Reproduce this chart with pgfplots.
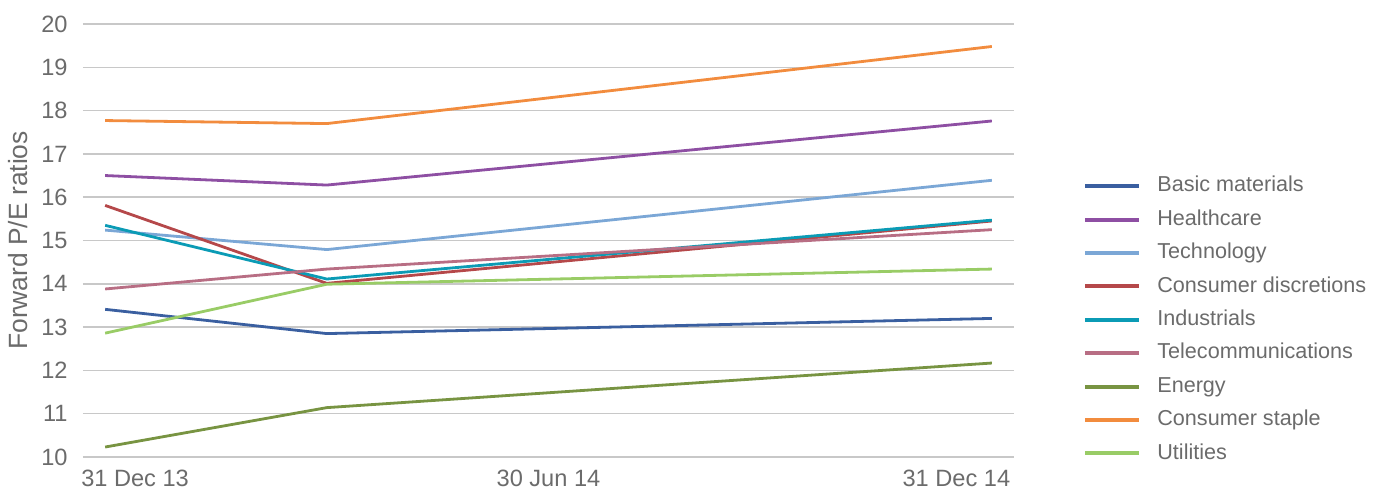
\documentclass[border=0pt]{standalone}
\usepackage{fontspec}
\setmainfont{Liberation Sans}
\usepackage{pgfplots}
\pgfplotsset{compat=1.18}
\definecolor{cBasic}{HTML}{3A5FA0}
\definecolor{cHealth}{HTML}{8E4FA3}
\definecolor{cTech}{HTML}{7BA7D6}
\definecolor{cDisc}{HTML}{B5484A}
\definecolor{cInd}{HTML}{0B9BB5}
\definecolor{cTel}{HTML}{B86E84}
\definecolor{cEnergy}{HTML}{789442}
\definecolor{cStaple}{HTML}{F28C3E}
\definecolor{cUtil}{HTML}{99CC66}
\definecolor{gridgray}{HTML}{C8C8C8}
\definecolor{textgray}{HTML}{6B6B6B}
\begin{document}
\begin{tikzpicture}
\path[use as bounding box] (-41.5pt,-16.5pt) rectangle (648pt,228.5pt);
\begin{axis}[
  scale only axis, width=465.5pt, height=216.5pt,
  xmin=-0.1, xmax=4.1, ymin=10, ymax=20,
  axis x line*=bottom, axis y line*=left,
  axis line style={draw=none},
  major tick length=0pt,
  ytick={10,11,...,20},
  /pgf/number format/assume math mode=true,
  ymajorgrids, grid style={color=gridgray, line width=0.75pt},
  xtick={0.135,2,3.84},
  xticklabels={31 Dec 13, 30 Jun 14, 31 Dec 14},
  tick label style={font=\fontsize{11.8}{13}\selectfont, text=textgray},
  yticklabel style={anchor=east, inner sep=0pt, xshift=-7.5pt},
  xticklabel style={anchor=north, inner sep=0pt, text height=8.3pt, text depth=0pt, yshift=-6.2pt},
  ylabel={Forward P/E ratios},
  ylabel style={at={(axis description cs:-0.0698,0.5)}, anchor=center, font=\fontsize{13.2}{15}\selectfont, text=textgray},
  legend cell align=left,
  legend style={at={(1.0745,0.648)}, anchor=north west, draw=none, fill=none,
    inner sep=0pt, outer sep=0pt, row sep=7pt,
    /tikz/every odd column/.append style={column sep=8pt},
    nodes={inner sep=0pt, text height=7.7pt, text depth=2pt, font=\fontsize{10.8}{13}\selectfont, text=textgray}},
  legend image code/.code={\draw[#1, line width=2pt] (0pt,0pt) -- (27pt,0pt);},
  every axis plot/.append style={line width=1.4pt, mark=none},
]
\addplot[cBasic] coordinates {(0,13.41) (1,12.85) (4,13.2)};
\addlegendentry{Basic materials}
\addplot[cHealth] coordinates {(0,16.5) (1,16.28) (4,17.76)};
\addlegendentry{Healthcare}
\addplot[cTech] coordinates {(0,15.24) (1,14.79) (4,16.39)};
\addlegendentry{Technology}
\addplot[cDisc] coordinates {(0,15.81) (1,14.01) (4,15.45)};
\addlegendentry{Consumer discretions}
\addplot[cInd] coordinates {(0,15.35) (1,14.11) (4,15.47)};
\addlegendentry{Industrials}
\addplot[cTel] coordinates {(0,13.88) (1,14.34) (4,15.25)};
\addlegendentry{Telecommunications}
\addplot[cEnergy] coordinates {(0,10.23) (1,11.14) (4,12.17)};
\addlegendentry{Energy}
\addplot[cStaple] coordinates {(0,17.77) (1,17.70) (4,19.48)};
\addlegendentry{Consumer staple}
\addplot[cUtil] coordinates {(0,12.86) (1,13.99) (4,14.34)};
\addlegendentry{Utilities}
\end{axis}
\end{tikzpicture}
\end{document}
